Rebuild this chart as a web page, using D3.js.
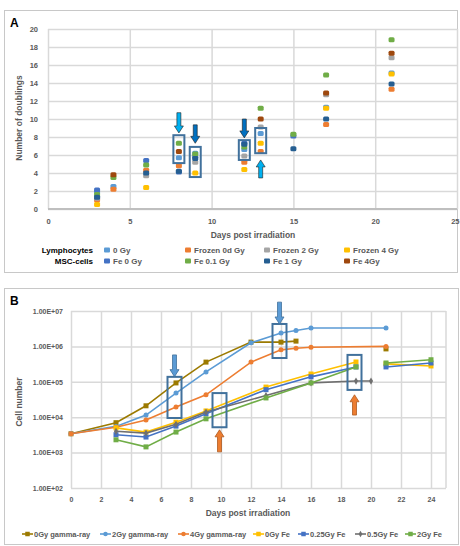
<!DOCTYPE html>
<html>
<head>
<meta charset="utf-8">
<script src="https://cdn.jsdelivr.net/npm/d3@7"></script>
<style>
  body { margin: 0; background: #fff; }
  svg text { font-family: "Liberation Sans", Arial, sans-serif; }
</style>
</head>
<body>
<div id="chart"></div>
<script>
// ---- panel A data: number of doublings ----
const daysA = [3, 4, 6, 8, 9, 12, 13, 15, 17, 21]
const namesA = ['0 Gy', 'Frozen 0d Gy', 'Frozen 2 Gy', 'Frozen 4 Gy', 'Fe 0 Gy', 'Fe 0.1 Gy', 'Fe 1 Gy', 'Fe 4Gy']
const colorsA = ['#5B9BD5', '#ED7D31', '#A5A5A5', '#FFC000', '#4472C4', '#70AD47', '#255E91', '#9E480E']
const valuesA = [
  [1.9, 2.5, null, 5.7, 6.2, 6.6, 8.4, null, 11.3, 15.1],
  [1.0, 2.2, 4.3, 4.8, null, 5.2, 6.4, null, 9.4, 13.3],
  [1.2, null, 3.7, null, 5.2, 5.9, 9.1, null, 12.7, 16.8],
  [0.5, null, 2.4, null, 4.0, 4.4, 7.3, null, 11.2, 15.0],
  [2.1, null, 5.4, 4.1, 5.8, 7.3, null, 8.1, null, null],
  [1.6, 3.5, 4.9, 7.3, 6.1, 6.9, 11.2, 8.3, 14.9, 18.8],
  [1.3, null, 4.0, 4.2, 5.6, 7.2, null, 6.7, 10.0, 13.9],
  [null, 3.8, null, 6.4, null, null, 10.0, null, 12.9, 17.3]
]
const ticksYA = [0, 2, 4, 6, 8, 10, 12, 14, 16, 18, 20]
const ticksXA = [0, 5, 10, 15, 20, 25]
const boxesA = [
  { day: 8, lo: 5.1, hi: 8.2 },
  { day: 9, lo: 3.55, hi: 6.9 },
  { day: 12, lo: 5.45, hi: 7.65 },
  { day: 13, lo: 6.2, hi: 9.0 }
]
const arrowsA = [
  { day: 8, from: 10.7, to: 8.45, color: '#00B0F0' },
  { day: 9, from: 9.35, to: 7.3, color: '#0070C0' },
  { day: 12, from: 10.0, to: 7.9, color: '#0070C0' },
  { day: 13, from: 3.45, to: 5.45, color: '#00B0F0' }
]

// ---- panel B data: cell number ----
const daysGamma = [0, 3, 5, 7, 9, 12, 14, 15, 16, 21]
const daysFe = [3, 5, 7, 9, 13, 16, 19, 20, 21, 24]
const namesB = ['0Gy gamma-ray', '2Gy gamma-ray', '4Gy gamma-ray', '0Gy Fe', '0.25Gy Fe', '0.5Gy Fe', '2Gy Fe']
const colorsB = ['#9C7A00', '#5B9BD5', '#ED7D31', '#FFC000', '#4472C4', '#6F6F6F', '#70AD47']
const shapesB = ['square', 'circle', 'circle', 'square', 'square', 'diamond', 'square']
const valuesB = [
  [3400, 7000, 21000, 93000, 360000, 1320000, 1320000, 1410000, null, 850000],
  [3400, 5500, 11500, 48000, 190000, 1260000, 2400000, 2800000, 3300000, 3300000],
  [3400, 5200, 8300, 19500, 43000, 360000, 800000, 890000, 950000, 1000000],
  [5000, 3800, 7200, 15000, 71000, 166000, 363000, null, 320000, 280000],
  [3200, 2750, 5600, 12500, 60000, 138000, 263000, null, 263000, 340000],
  [4000, 3550, 6300, 14000, 41000, 93000, 105000, 105000, null, null],
  [2300, 1450, 3800, 9000, 35000, 93000, 263000, null, 340000, 420000]
]
const ticksYB = [100, 1000, 10000, 100000, 1000000, 10000000]
const ticksXB = [0, 2, 4, 6, 8, 10, 12, 14, 16, 18, 20, 22, 24]
const boxesB = [
  { day: 6.9, lo: 9500, hi: 138000 },
  { day: 9.9, lo: 5200, hi: 48000 },
  { day: 13.9, lo: 470000, hi: 4300000 },
  { day: 18.9, lo: 59000, hi: 575000 }
]
const arrowsB = [
  { day: 6.9, from: 575000, to: 140000, color: '#5B9BD5', line: '#41719C' },
  { day: 9.9, from: 1050, to: 4400, color: '#ED7D31', line: '#AE5A21' },
  { day: 13.9, from: 17800000, to: 4300000, color: '#5B9BD5', line: '#41719C' },
  { day: 18.9, from: 11500, to: 43000, color: '#ED7D31', line: '#AE5A21' }
]

const width = 460,
      height = 546
const gridColor = '#D9D9D9'
const textColor = '#595959'

const svg = d3.select('#chart')
  .append('svg')
  .attr('width', width)
  .attr('height', height)

// block arrow pointing from yTail to yHead
function arrowPath(x, yTail, yHead) {
  const dir = yHead > yTail ? 1 : -1
  const headLen = 7
  const yNeck = yHead - dir * headLen
  return 'M' + (x - 2) + ',' + yTail + 'L' + (x + 2) + ',' + yTail +
    'L' + (x + 2) + ',' + yNeck + 'L' + (x + 4.5) + ',' + yNeck +
    'L' + x + ',' + yHead + 'L' + (x - 4.5) + ',' + yNeck +
    'L' + (x - 2) + ',' + yNeck + 'Z'
}

function marker(sel, shape, size) {
  if (shape === 'circle') {
    sel.append('circle').attr('r', size / 2)
  } else if (shape === 'diamond') {
    sel.append('path').attr('d', d3.symbol(d3.symbolDiamond, size * size * 0.6)())
  } else {
    sel.append('rect').attr('x', -size / 2).attr('y', -size / 2)
      .attr('width', size).attr('height', size)
  }
}

// ================= PANEL A =================
svg.append('rect')
  .attr('x', 4.5).attr('y', 10.5)
  .attr('width', 453).attr('height', 262)
  .attr('fill', 'none').attr('stroke', '#C8C8C8')

svg.append('text')
  .attr('x', 10).attr('y', 27)
  .attr('font-size', 12).attr('font-weight', 'bold')
  .text('A')

const xA = d3.scaleLinear().domain([0, 25]).range([48, 457])
const yA = d3.scaleLinear().domain([0, 20]).range([209, 29])

const gA = svg.append('g')

gA.append('g')
  .attr('transform', 'translate(48,0)')
  .call(d3.axisLeft(yA).tickValues(ticksYA).tickSize(-(457 - 48)).tickFormat(d3.format('d')))
  .call(g => g.select('.domain').remove())
  .call(g => g.selectAll('line').attr('stroke', gridColor).attr('stroke-width', 1.5))
  .call(g => g.selectAll('text').attr('x', -10).attr('fill', textColor)
    .attr('font-size', 7.5).attr('font-weight', 'bold'))

gA.append('g')
  .attr('transform', 'translate(0,209)')
  .call(d3.axisBottom(xA).tickValues(ticksXA).tickSize(-(209 - 29)).tickFormat(d3.format('d')))
  .call(g => g.select('.domain').remove())
  .call(g => g.selectAll('line').attr('stroke', gridColor).attr('stroke-width', 1.5))
  .call(g => g.selectAll('text').attr('y', 10).attr('fill', textColor)
    .attr('font-size', 7.5).attr('font-weight', 'bold'))
  // last label sits on the frame edge, keep it inside
  .call(g => g.selectAll('.tick').filter(d => d === 25).select('text')
    .attr('text-anchor', 'end').attr('x', 2))

gA.append('line')
  .attr('x1', 48).attr('x2', 457).attr('y1', 209).attr('y2', 209)
  .attr('stroke', '#BFBFBF').attr('stroke-width', 2)

gA.append('text')
  .attr('x', 253).attr('y', 238)
  .attr('text-anchor', 'middle').attr('font-size', 8.5).attr('font-weight', 'bold')
  .attr('fill', textColor)
  .text('Days post irradiation')

gA.append('text')
  .attr('transform', 'translate(22,118) rotate(-90)')
  .attr('text-anchor', 'middle').attr('font-size', 8.5).attr('font-weight', 'bold')
  .attr('fill', textColor)
  .text('Number of doublings')

valuesA.forEach(function(series, i) {
  const pts = series.map(function(v, j) { return { day: daysA[j], v: v } })
    .filter(function(d) { return d.v !== null })
  gA.append('g').selectAll('rect')
    .data(pts)
    .enter()
    .append('rect')
    .attr('x', function(d) { return xA(d.day) - 3 })
    .attr('y', function(d) { return yA(d.v) - 2.5 })
    .attr('width', 6).attr('height', 5).attr('rx', 1.5)
    .attr('fill', colorsA[i])
})

gA.selectAll('.boxA')
  .data(boxesA)
  .enter()
  .append('rect')
  .attr('class', 'boxA')
  .attr('x', function(d) { return xA(d.day) - 5.5 })
  .attr('y', function(d) { return yA(d.hi) })
  .attr('width', 11)
  .attr('height', function(d) { return yA(d.lo) - yA(d.hi) })
  .attr('fill', 'none').attr('stroke', '#41719C').attr('stroke-width', 2)

gA.selectAll('.arrowA')
  .data(arrowsA)
  .enter()
  .append('path')
  .attr('class', 'arrowA')
  .attr('d', function(d) { return arrowPath(xA(d.day), yA(d.from), yA(d.to)) })
  .attr('fill', function(d) { return d.color })
  .attr('stroke', '#1F1F1F').attr('stroke-width', 0.6)

// legend A: two rows
const legendRows = [
  { label: 'Lymphocytes', y: 250, items: [0, 1, 2, 3] },
  { label: 'MSC-cells', y: 261, items: [4, 5, 6, 7] }
]
const legendColsA = [107, 188, 267, 347]
legendRows.forEach(function(row) {
  gA.append('text')
    .attr('x', 93).attr('y', row.y + 3)
    .attr('text-anchor', 'end').attr('font-size', 8).attr('font-weight', 'bold')
    .attr('fill', '#000')
    .text(row.label)
  row.items.forEach(function(k, c) {
    gA.append('rect')
      .attr('x', legendColsA[c] - 3).attr('y', row.y - 2.5)
      .attr('width', 6).attr('height', 5).attr('rx', 1)
      .attr('fill', colorsA[k])
    gA.append('text')
      .attr('x', legendColsA[c] + 6).attr('y', row.y + 3)
      .attr('font-size', 8).attr('font-weight', 'bold').attr('fill', textColor)
      .text(namesA[k])
  })
})

// ================= PANEL B =================
svg.append('rect')
  .attr('x', 4.5).attr('y', 288.5)
  .attr('width', 454).attr('height', 256)
  .attr('fill', 'none').attr('stroke', '#C8C8C8')

svg.append('text')
  .attr('x', 10).attr('y', 305)
  .attr('font-size', 12).attr('font-weight', 'bold')
  .text('B')

const xB = d3.scaleLinear().domain([0, 25]).range([71, 446])
const yB = d3.scaleLog().domain([100, 10000000]).range([488, 311])

const gB = svg.append('g')

gB.append('g')
  .attr('transform', 'translate(71,0)')
  .call(d3.axisLeft(yB).tickValues(ticksYB).tickSize(-(446 - 71))
    .tickFormat(function(d) { return '1.00E+' + String(Math.round(Math.log10(d))).padStart(2, '0') }))
  .call(g => g.select('.domain').remove())
  .call(g => g.selectAll('line').attr('stroke', gridColor).attr('stroke-width', 1.5))
  .call(g => g.selectAll('text').attr('x', -8).attr('fill', textColor)
    .attr('font-size', 7).attr('font-weight', 'bold'))

gB.append('g')
  .attr('transform', 'translate(0,488)')
  .call(d3.axisBottom(xB).tickValues(ticksXB).tickSize(-(488 - 311)).tickFormat(d3.format('d')))
  .call(g => g.select('.domain').remove())
  .call(g => g.selectAll('line').attr('stroke', gridColor).attr('stroke-width', 1.5))
  .call(g => g.selectAll('text').attr('y', 9).attr('fill', textColor)
    .attr('font-size', 7).attr('font-weight', 'bold'))

gB.append('line')
  .attr('x1', 446).attr('x2', 446).attr('y1', 311).attr('y2', 488)
  .attr('stroke', gridColor).attr('stroke-width', 1.5)

gB.append('text')
  .attr('x', 248).attr('y', 516)
  .attr('text-anchor', 'middle').attr('font-size', 8.5).attr('font-weight', 'bold')
  .attr('fill', textColor)
  .text('Days post irradiation')

gB.append('text')
  .attr('transform', 'translate(22,402) rotate(-90)')
  .attr('text-anchor', 'middle').attr('font-size', 8.5).attr('font-weight', 'bold')
  .attr('fill', textColor)
  .text('Cell number')

const line = d3.line()
  .defined(function(d) { return d.v !== null })
  .x(function(d) { return xB(d.day) })
  .y(function(d) { return yB(d.v) })

valuesB.forEach(function(series, i) {
  const days = i < 3 ? daysGamma : daysFe
  const pts = series.map(function(v, j) { return { day: days[j], v: v } })
  gB.append('path')
    .datum(pts)
    .attr('d', line)
    .attr('fill', 'none')
    .attr('stroke', colorsB[i])
    .attr('stroke-width', 1.6)
  const dots = gB.append('g').attr('fill', colorsB[i])
    .selectAll('g')
    .data(pts.filter(function(d) { return d.v !== null }))
    .enter()
    .append('g')
    .attr('transform', function(d) { return 'translate(' + xB(d.day) + ',' + yB(d.v) + ')' })
  marker(dots, shapesB[i], 5)
})

gB.selectAll('.boxB')
  .data(boxesB)
  .enter()
  .append('rect')
  .attr('class', 'boxB')
  .attr('x', function(d) { return xB(d.day) - 7 })
  .attr('y', function(d) { return yB(d.hi) })
  .attr('width', 14)
  .attr('height', function(d) { return yB(d.lo) - yB(d.hi) })
  .attr('fill', 'none').attr('stroke', '#41719C').attr('stroke-width', 2)

gB.selectAll('.arrowB')
  .data(arrowsB)
  .enter()
  .append('path')
  .attr('class', 'arrowB')
  .attr('d', function(d) { return arrowPath(xB(d.day), yB(d.from), yB(d.to)) })
  .attr('fill', function(d) { return d.color })
  .attr('stroke', function(d) { return d.line }).attr('stroke-width', 0.8)

// legend B: one row
const legendXB = [22, 100, 178, 253, 298, 355, 405]
namesB.forEach(function(name, i) {
  const lg = gB.append('g').attr('transform', 'translate(' + legendXB[i] + ',534)')
  lg.append('line').attr('x1', 0).attr('x2', 11).attr('y1', 0).attr('y2', 0)
    .attr('stroke', colorsB[i]).attr('stroke-width', 1.6)
  const m = lg.append('g').attr('transform', 'translate(5.5,0)').attr('fill', colorsB[i])
  marker(m, shapesB[i], 4.5)
  lg.append('text')
    .attr('x', 12).attr('y', 3)
    .attr('font-size', 7.5).attr('font-weight', 'bold').attr('fill', textColor)
    .text(name)
})
</script>
</body>
</html>
